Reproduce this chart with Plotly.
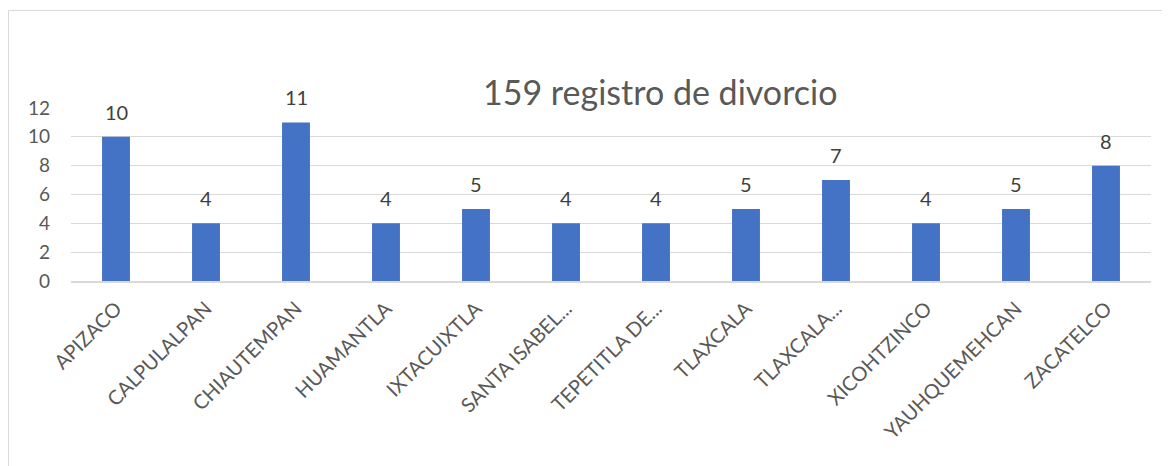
import plotly.graph_objects as go

categories = ["APIZACO", "CALPULALPAN", "CHIAUTEMPAN", "HUAMANTLA", "IXTACUIXTLA",
              "SANTA ISABEL...", "TEPETITLA DE...", "TLAXCALA", "TLAXCALA...",
              "XICOHTZINCO", "YAUHQUEMEHCAN", "ZACATELCO"]
values = [10, 4, 11, 4, 5, 4, 4, 5, 7, 4, 5, 8]
title_text = "159 registro de divorcio"
y_ticks = [0, 2, 4, 6, 8, 10, 12]

FONT = "Lato"
GREY = "#595959"

# page has an 8px body margin; work in page pixels and convert
OFF = 8
W, H = 1170 - OFF, 466 - OFF
L, T = 71 - OFF, 108 - OFF
R = W - (1151 - OFF)
B = H - (281 - OFF)
pw, ph = W - L - R, H - T - B

def px_x(p):
    return (p - OFF - L) / pw

def px_y(p):
    return (H - B - (p - OFF)) / ph

fig = go.Figure()
fig.add_trace(go.Bar(x=categories, y=values, marker=dict(color="#4472C4", line=dict(width=0)),
                     hoverinfo="x+y"))

for c, v in zip(categories, values):
    fig.add_annotation(x=c, y=v, text=str(v), showarrow=False, yanchor="bottom",
                       yshift=11, font=dict(family=FONT, size=20, color="#404040"))

fig.add_shape(type="rect", xref="paper", yref="paper",
              x0=px_x(8.5), x1=px_x(1200), y0=px_y(10.5), y1=px_y(500),
              line=dict(color="#D9D9D9", width=1), fillcolor="rgba(0,0,0,0)", layer="below")

fig.add_annotation(xref="paper", yref="paper", x=px_x(660), y=px_y(91), text=title_text,
                   showarrow=False, xanchor="center", yanchor="middle",
                   font=dict(family=FONT, size=34, color=GREY))

fig.update_layout(
    width=W, height=H,
    margin=dict(l=L, r=R, t=T, b=B, autoexpand=False),
    paper_bgcolor="white", plot_bgcolor="white",
    bargap=0.69, showlegend=False,
    font=dict(family=FONT, color=GREY),
    xaxis=dict(tickangle=-45, tickfont=dict(family=FONT, size=20, color=GREY),
               showline=True, linecolor="#D9D9D9", linewidth=2, showgrid=False,
               ticks="", ticklabelstandoff=6),
    yaxis=dict(range=[0, 12], tickvals=y_ticks, showgrid=True, gridcolor="#D9D9D9",
               gridwidth=1, zeroline=False, showline=False,
               tickfont=dict(family=FONT, size=19, color=GREY), ticklabelstandoff=20),
)

fig.write_html("out.html")
